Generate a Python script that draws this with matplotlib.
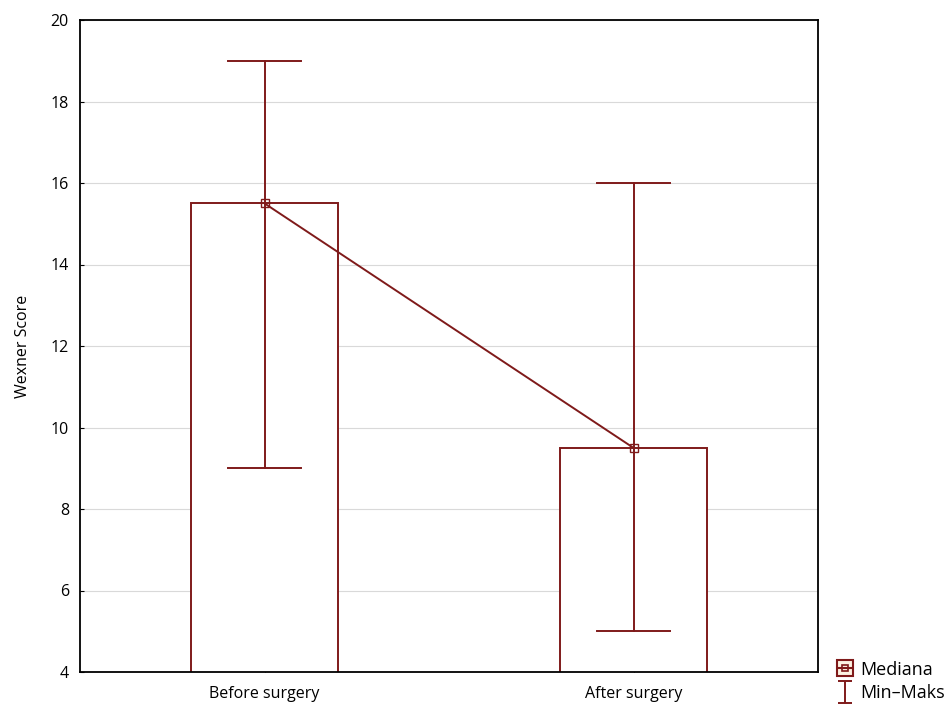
import matplotlib
matplotlib.use('Agg')
import matplotlib.pyplot as plt
from matplotlib.lines import Line2D
from matplotlib.path import Path
from matplotlib.legend_handler import HandlerTuple

plt.rcParams['font.family'] = ['Open Sans', 'DejaVu Sans']

groups = ['Before surgery', 'After surgery']
median = [15.5, 9.5]
minimum = [9, 5]
maximum = [19, 16]

red = '#7f1a1a'
x = list(range(len(groups)))

fig = plt.figure(figsize=(9.52, 7.09), dpi=100)
ax = fig.add_axes([80 / 952, 1 - 672 / 709, 738 / 952, 652 / 709])

ax.bar(x, median, width=0.4, bottom=0, color='white', edgecolor=red, linewidth=1.4, zorder=2)
for i in x:
    ax.plot([i, i], [minimum[i], maximum[i]], color=red, lw=1.4, zorder=3)
    for v in (minimum[i], maximum[i]):
        ax.plot([i - 0.1, i + 0.1], [v, v], color=red, lw=1.4, zorder=3)
ax.plot(x, median, color=red, lw=1.4, marker='s', markersize=6, markerfacecolor='none',
        markeredgecolor=red, zorder=4)

ax.set_xlim(-0.5, 1.5)
ax.set_ylim(4, 20)
ax.set_yticks(range(4, 21, 2))
ax.set_xticks(x)
ax.set_xticklabels(groups, fontsize=11.5)
ax.tick_params(axis='both', direction='in', length=3, labelsize=11.5, color='black')
ax.tick_params(axis='y', pad=8)
ax.tick_params(axis='x', pad=10)
ax.yaxis.grid(True, color='#d9d9d9', lw=0.8, zorder=0)
ax.set_axisbelow(True)
for s in ax.spines.values():
    s.set_linewidth(1.3)
ax.set_ylabel('Wexner Score', fontsize=11.5, labelpad=14)

# I-beam glyph for the min-max legend entry
ibeam = Path([(-0.65, 1), (0.65, 1), (0, 1), (0, -1), (-0.65, -1), (0.65, -1)],
             [Path.MOVETO, Path.LINETO, Path.MOVETO, Path.LINETO, Path.MOVETO, Path.LINETO])

med_box = Line2D([0], [0], lw=0, marker='s', markersize=11, markerfacecolor='#fdf3e3',
                 markeredgecolor=red, markeredgewidth=1.5)
med_inner = Line2D([0], [0], lw=0, marker='s', markersize=4.5, markerfacecolor='none',
                   markeredgecolor=red, markeredgewidth=1.2)
med_line = Line2D([0], [0], lw=0, marker='_', markersize=11, markeredgecolor=red,
                  markeredgewidth=1.5)
minmax = Line2D([0], [0], color=red, lw=0, marker=ibeam, markersize=16, markeredgewidth=1.4)

fig.legend([(med_box, med_inner, med_line), minmax], ['Mediana', 'Min–Maks'],
           handler_map={tuple: HandlerTuple(ndivide=1, pad=0)},
           loc='lower left', bbox_to_anchor=(826 / 952, -0.008),
           frameon=False, fontsize=13, handlelength=0.7, handletextpad=0.5, labelspacing=0.3,
           borderpad=0.2)

fig.savefig('out.png', dpi=100)
